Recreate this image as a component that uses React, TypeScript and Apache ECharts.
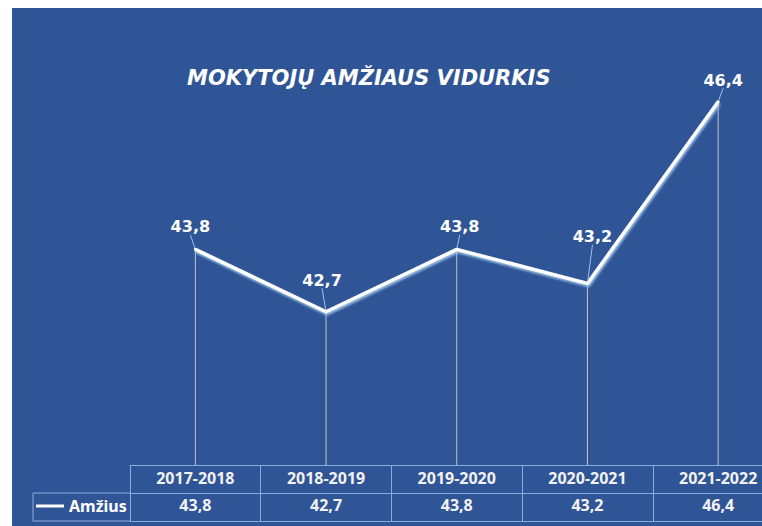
import React, { useEffect, useRef } from "react";
import * as echarts from "echarts";

const title = "MOKYTOJŲ AMŽIAUS VIDURKIS";
const seriesName = "Amžius";
const categories = ["2017-2018", "2018-2019", "2019-2020", "2020-2021", "2021-2022"];
const values = [43.8, 42.7, 43.8, 43.2, 46.4];
const yMin = 40;
const yMax = 48;

const labelShift: [number, number][] = [
  [-5, -8],
  [-4, -17],
  [3, -8],
  [5, -32],
  [5, -7],
];

const fmt = (v: number) => v.toFixed(1).replace(".", ",");

const BG = "#2F5597";
const GRIDLINE = "#8FAADC";
const FONT = "'Noto Sans', 'DejaVu Sans', sans-serif";
const WIDE = "'DejaVu Sans', 'Noto Sans', sans-serif";

export default function App() {
  const ref = useRef<HTMLDivElement>(null);
  useEffect(() => {
    if (!ref.current) return;
    const chart = echarts.init(ref.current, null, { renderer: "svg" });
    const tableLine = { show: true, lineStyle: { color: GRIDLINE, width: 1 } };
    chart.setOption({
      animation: false,
      backgroundColor: BG,
      title: {
        text: title,
        left: 170,
        top: 54,
        textStyle: {
          color: "#ffffff",
          fontFamily: WIDE,
          fontSize: 21,
          fontWeight: "bold",
          fontStyle: "italic",
        },
      },
      legend: {
        data: [{ name: seriesName, icon: "rect" }],
        left: 19,
        top: 485,
        itemWidth: 28,
        itemHeight: 3,
        textStyle: { color: "#ffffff", fontFamily: FONT, fontSize: 16, fontWeight: "bold" },
      },
      grid: { left: 118, right: 18.5, top: 3, bottom: 61, containLabel: false },
      xAxis: [
        {
          type: "category",
          data: categories,
          position: "bottom",
          boundaryGap: true,
          axisLine: tableLine,
          axisTick: { show: true, length: 56, lineStyle: { color: GRIDLINE, width: 1 } },
          axisLabel: {
            color: "#F2F2F2",
            fontFamily: FONT,
            fontSize: 16,
            fontWeight: "bold",
            margin: 5,
          },
          splitLine: { show: false },
        },
        {
          type: "category",
          data: categories,
          position: "bottom",
          offset: 28,
          boundaryGap: true,
          axisLine: tableLine,
          axisTick: { show: false },
          axisLabel: {
            color: "#F2F2F2",
            fontFamily: FONT,
            fontSize: 16,
            fontWeight: "bold",
            margin: 4,
            formatter: (_v: string, i: number) => fmt(values[i]),
          },
        },
        {
          type: "category",
          data: categories,
          position: "bottom",
          offset: 56,
          boundaryGap: true,
          axisLine: tableLine,
          axisTick: { show: false },
          axisLabel: { show: false },
        },
      ],
      yAxis: {
        type: "value",
        min: yMin,
        max: yMax,
        show: false,
        splitLine: { show: false },
      },
      graphic: [
        { type: "line", shape: { x1: 21, y1: 485, x2: 118, y2: 485 }, style: { stroke: GRIDLINE, lineWidth: 1 } },
        { type: "line", shape: { x1: 21, y1: 513, x2: 118, y2: 513 }, style: { stroke: GRIDLINE, lineWidth: 1 } },
        { type: "line", shape: { x1: 21, y1: 485, x2: 21, y2: 513 }, style: { stroke: GRIDLINE, lineWidth: 1 } },
      ],
      series: [
        {
          name: "drop",
          type: "bar",
          data: values,
          barWidth: 1,
          itemStyle: { color: "rgba(217,217,217,0.85)" },
          silent: true,
          z: 1,
        },
        {
          name: seriesName,
          type: "line",
          data: values,
          symbol: "circle",
          symbolSize: 3,
          itemStyle: { color: "#ffffff" },
          lineStyle: {
            color: "#ffffff",
            width: 3.5,
            shadowColor: "rgba(157,195,230,1)",
            shadowBlur: 2,
            shadowOffsetX: 1,
            shadowOffsetY: 2,
          },
          z: 3,
          label: {
            show: true,
            position: "top",
            distance: 5,
            color: "#ffffff",
            fontFamily: WIDE,
            fontSize: 16,
            fontWeight: "bold",
            formatter: (p: any) => fmt(p.value),
          },
          labelLayout: (p: any) => ({
            dx: labelShift[p.dataIndex][0],
            dy: labelShift[p.dataIndex][1],
          }),
          labelLine: {
            show: true,
            lineStyle: { color: "#9DC3E6", width: 1 },
          },
        },
      ],
    });
    return () => chart.dispose();
  }, []);
  return (
    <div style={{ position: "absolute", left: 0, top: 0, width: 762, height: 526, overflow: "hidden", background: "#ffffff" }}>
      <div ref={ref} style={{ position: "absolute", left: 12, top: 8, width: 790, height: 518 }} />
    </div>
  );
}
